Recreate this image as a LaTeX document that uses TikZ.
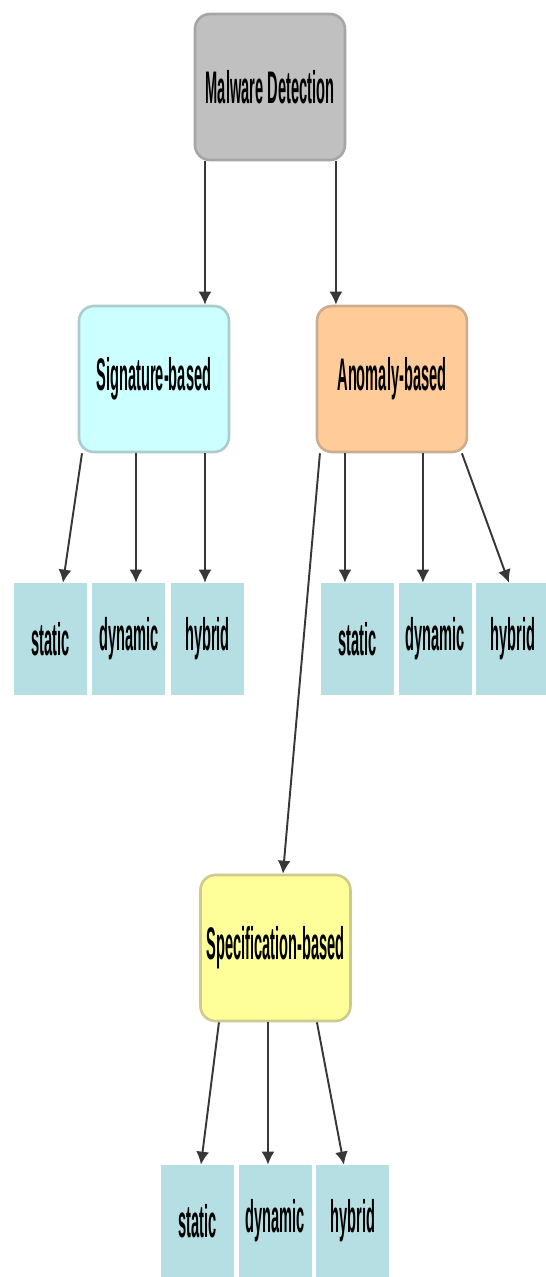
\documentclass[tikz,border=0pt]{standalone}
\usepackage{fontspec}
\setmainfont{Liberation Sans}
\usetikzlibrary{arrows.meta}
\definecolor{cRoot}{RGB}{192,192,192}
\definecolor{cSig}{RGB}{204,255,255}
\definecolor{cAnom}{RGB}{255,204,153}
\definecolor{cSpec}{RGB}{255,255,153}
\definecolor{cLeaf}{RGB}{182,223,228}
\definecolor{cLink}{RGB}{55,55,55}
\tikzset{
	cat/.style ={rectangle, rounded corners=0.3cm, line width=1.5pt, fill=#1, draw=#1!60!gray, minimum width=9.375cm, minimum height=2.92cm, inner sep=0pt, align=center},
	leaf/.style={rectangle, fill=cLeaf, minimum width=4.5625cm, minimum height=2.24cm, inner sep=0pt},
	link/.style={-{Latex[length=0.26cm, width=0.26cm]}, line width=1.1pt, cLink},
}
\begin{document}
\begin{tikzpicture}[x=0.02cm, y=-0.02cm, font=\fontsize{26}{31}\selectfont\bfseries]
	\useasboundingbox (0,0) rectangle (546,1277);
	\begin{scope}[xscale=0.32, x=0.0625cm, transform shape]
		% categories
		\node[cat=cRoot] (md) at (270,87) {Malware Detection};
		\node[cat=cSig] (sig) at (154,379) {Signature-based};
		\node[cat=cAnom] (anom) at (392,379) {Anomaly-based};
		\node[cat=cSpec] (spec) at (275.5,948) {Specification-based};
		% leaves
		\foreach \nm/\txt/\x/\y in {sigS/static/50.5/639, sigD/dynamic/129/639, sigH/hybrid/207.5/639,
			anoS/static/357.5/639, anoD/dynamic/435.5/639, anoH/hybrid/513/639,
			speS/static/197.5/1221, speD/dynamic/275.5/1221, speH/hybrid/353/1221}
			\node[leaf] (\nm) at (\x,\y) {\txt};
		% links
		\draw[link] (md.south -| 205,0) -- (sig.north -| 205,0);
		\draw[link] (md.south -| 336,0) -- (anom.north -| 336,0);
		\draw[link] (sig.south -| 82,0) -- (sigS.north -| 63,0);
		\draw[link] (sig.south -| 136,0) -- (sigD.north -| 136,0);
		\draw[link] (sig.south -| 205,0) -- (sigH.north -| 205,0);
		\draw[link] (anom.south -| 320,0) -- (spec.north -| 283,0);
		\draw[link] (anom.south -| 345,0) -- (anoS.north -| 345,0);
		\draw[link] (anom.south -| 423,0) -- (anoD.north -| 423,0);
		\draw[link] (anom.south -| 462,0) -- (anoH.north -| 509,0);
		\draw[link] (spec.south -| 219,0) -- (speS.north -| 201,0);
		\draw[link] (spec.south -| 268,0) -- (speD.north -| 268,0);
		\draw[link] (spec.south -| 317,0) -- (speH.north -| 344,0);
	\end{scope}
\end{tikzpicture}
\end{document}
